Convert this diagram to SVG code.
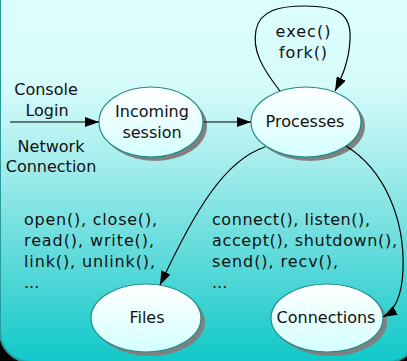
<svg xmlns="http://www.w3.org/2000/svg" width="407" height="361" viewBox="0 0 407 361">
<defs>
<linearGradient id="bg" x1="0" y1="0" x2="0" y2="1">
<stop offset="0" stop-color="#e0ffff"/>
<stop offset="0.33" stop-color="#d6fbfb"/>
<stop offset="0.5" stop-color="#aaeeee"/>
<stop offset="0.75" stop-color="#5edada"/>
<stop offset="1" stop-color="#10c8c8"/>
</linearGradient>
<linearGradient id="nodefill" x1="0" y1="0" x2="0" y2="1">
<stop offset="0" stop-color="#ffffff"/>
<stop offset="1" stop-color="#d4ffff"/>
</linearGradient>
<marker id="arr" viewBox="0 0 14 10" refX="14" refY="5" markerWidth="14" markerHeight="10" markerUnits="userSpaceOnUse" orient="auto">
<path d="M0,0 L14,5 L0,10 Z" fill="#000"/>
</marker>
</defs>
<style>
.shadow{fill:#808080}
.node{fill:url(#nodefill);stroke:#1f8c8c;stroke-width:1.2}
.lbl{font-family:"DejaVu Sans","Verdana",sans-serif;font-size:16px;fill:#111}
.mid{text-anchor:middle}
.edge{fill:none;stroke:#000;stroke-width:1.2;marker-end:url(#arr)}
</style>
<rect x="0" y="0" width="407" height="361" fill="#000"/>
<rect x="0" y="-50" width="418" height="412" rx="30" ry="30" fill="url(#bg)" stroke="#2a9a9a" stroke-width="2"/>

<g id="input-labels">
<text class="lbl mid" x="46" y="95">Console</text>
<text class="lbl mid" x="47" y="116">Login</text>
<text class="lbl mid" x="51" y="152">Network</text>
<text class="lbl mid" x="51" y="172">Connection</text>
</g>

<g id="incoming">
<ellipse class="shadow" cx="155" cy="126" rx="52" ry="35"/>
<ellipse class="node" cx="151" cy="122" rx="52" ry="35"/>
<text class="lbl mid" x="152" y="117">Incoming</text>
<text class="lbl mid" x="152" y="138">session</text>
</g>

<g id="processes">
<ellipse class="shadow" cx="310" cy="126" rx="55" ry="35"/>
<ellipse class="node" cx="306" cy="122" rx="55" ry="35"/>
<text class="lbl mid" x="305" y="127">Processes</text>
</g>

<g id="files">
<ellipse class="shadow" cx="150" cy="322" rx="55" ry="34"/>
<ellipse class="node" cx="146" cy="318" rx="55" ry="34"/>
<text class="lbl mid" x="147" y="323">Files</text>
</g>

<g id="connections">
<ellipse class="shadow" cx="331" cy="322" rx="56" ry="34"/>
<ellipse class="node" cx="327" cy="318" rx="56" ry="34"/>
<text class="lbl mid" x="326" y="323">Connections</text>
</g>

<g id="connectors">
<path class="edge" d="M10,122 L99,122"/>
<path class="edge" d="M204,122 L251,122"/>
<path class="edge" d="M280,91 C262,68 252,50 256,30 C260,10 280,6 305,6 C335,6 352,12 350,40 C349,60 343,75 335,91"/>
<path class="edge" d="M265,147 C225,160 195,210 160,285"/>
<path class="edge" d="M346,146 C385,170 405,220 403,270 C402,295 396,310 383,317"/>
</g>

<g id="labels">
<text class="lbl mid" x="303" y="37" textLength="55">exec()</text>
<text class="lbl mid" x="303" y="58" textLength="48">fork()</text>
<text class="lbl" x="24" y="225" textLength="133">open(), close(),</text>
<text class="lbl" x="24" y="246" textLength="130">read(), write(),</text>
<text class="lbl" x="24" y="267" textLength="131">link(), unlink(),</text>
<text class="lbl" x="24" y="288">...</text>
<text class="lbl" x="212" y="225" textLength="158">connect(), listen(),</text>
<text class="lbl" x="212" y="246" textLength="185">accept(), shutdown(),</text>
<text class="lbl" x="212" y="267" textLength="126">send(), recv(),</text>
<text class="lbl" x="212" y="288">...</text>
</g>
</svg>
